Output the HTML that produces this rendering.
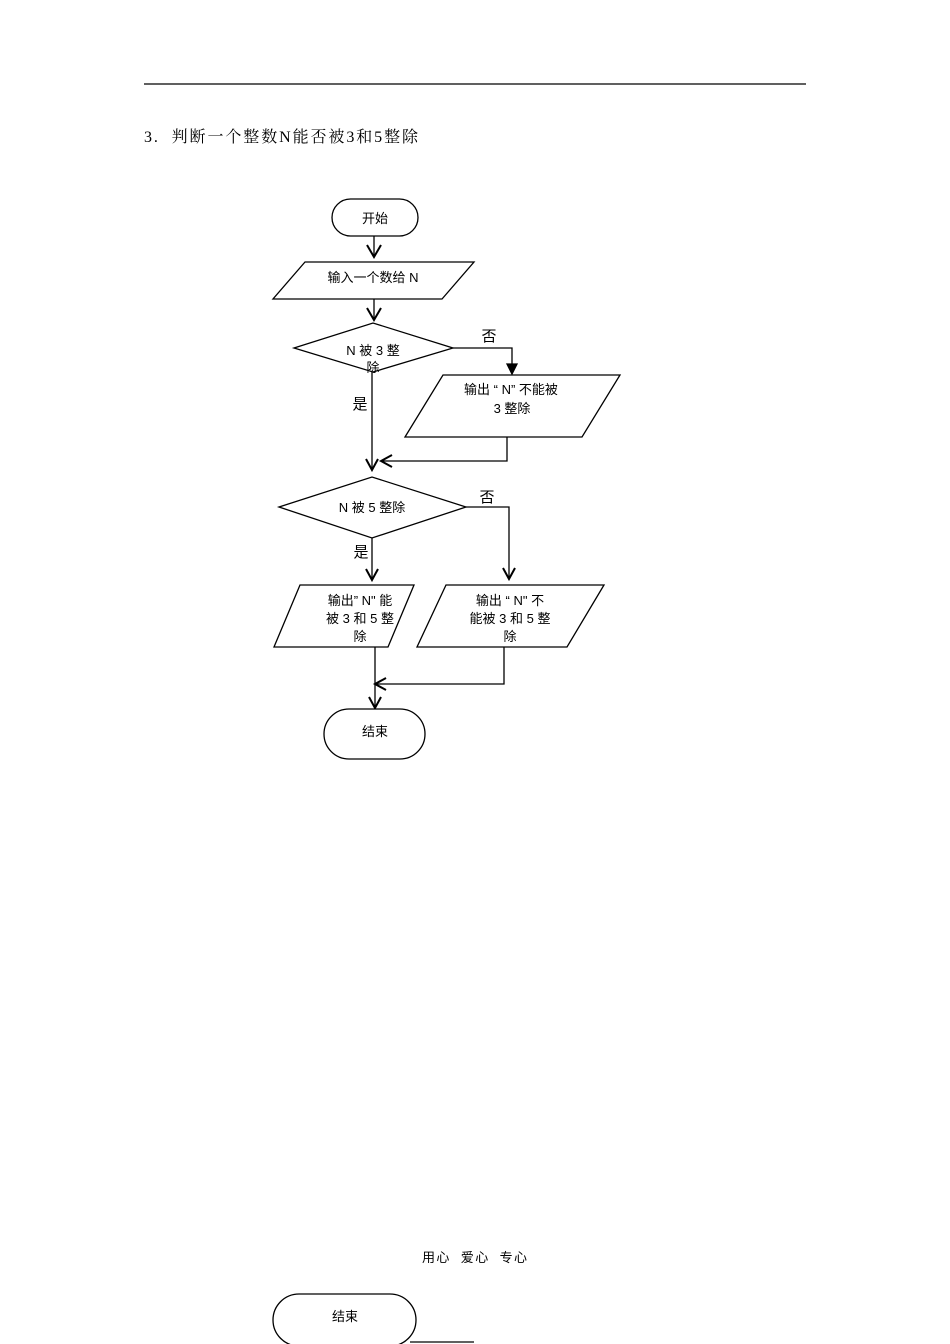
<!DOCTYPE html>
<html><head><meta charset="utf-8"><style>
html,body{margin:0;padding:0;background:#fff;}
svg{display:block;}
text{font-family:"Liberation Sans","Noto Sans CJK SC",sans-serif;font-size:13px;fill:#000;}
.t{font-family:"Liberation Serif","Noto Serif CJK SC",serif;font-size:16px;}
</style></head><body>
<svg width="950" height="1344" viewBox="0 0 950 1344" xmlns="http://www.w3.org/2000/svg">
<g stroke="#000" stroke-width="1.3" fill="none">
<line x1="144" y1="84" x2="806" y2="84"/>
<rect x="332" y="199" width="86" height="37" rx="18.5" fill="#fff"/>
<line x1="374" y1="236" x2="374" y2="257"/>
<polyline points="367,245 374,257 381,245" stroke-width="2"/>
<polygon points="305,262 474,262 442,299 273,299" fill="#fff"/>
<line x1="374" y1="299" x2="374" y2="320"/>
<polyline points="367,308 374,320 381,308" stroke-width="2"/>
<polygon points="294,348 373,323 453,348 373,372" fill="#fff"/>
<polyline points="453,348 512,348 512,366"/>
<polygon points="507,364 517,364 512,374" fill="#000"/>
<polygon points="443,375 620,375 582,437 405,437" fill="#fff"/>
<polyline points="507,437 507,461 382,461"/>
<polyline points="392,455 381,461 392,467" stroke-width="2"/>
<line x1="372" y1="372" x2="372" y2="469"/>
<polyline points="366,459 372,470 378,459" stroke-width="2"/>
<polygon points="279,507 372,477 466,507 372,538" fill="#fff"/>
<polyline points="466,507 509,507 509,578"/>
<polyline points="503,568 509,579 515,568" stroke-width="2"/>
<line x1="372" y1="538" x2="372" y2="579"/>
<polyline points="366,569 372,580 378,569" stroke-width="2"/>
<polygon points="300,585 414,585 388,647 274,647" fill="#fff"/>
<polygon points="446,585 604,585 567,647 417,647" fill="#fff"/>
<line x1="375" y1="647" x2="375" y2="707"/>
<polyline points="369,697 375,708 381,697" stroke-width="2"/>
<polyline points="504,647 504,684 376,684"/>
<polyline points="386,678 375,684 386,690" stroke-width="2"/>
<rect x="324" y="709" width="101" height="50" rx="25" fill="#fff"/>
<rect x="273" y="1294" width="143" height="52" rx="26" fill="#fff"/>
<line x1="410" y1="1342" x2="474" y2="1342"/>
</g>
<text class="t" x="144" y="142" textLength="274" lengthAdjust="spacing" xml:space="preserve">3.  判断一个整数N能否被3和5整除</text>
<text x="375" y="223" text-anchor="middle">开始</text>
<text x="373" y="282" text-anchor="middle">输入一个数给 N</text>
<text x="373" y="355" text-anchor="middle">N 被 3 整</text>
<text x="373" y="372" text-anchor="middle">除</text>
<text x="489" y="341" text-anchor="middle" style="font-size:15px">否</text>
<text x="511" y="394" text-anchor="middle">输出 “ N” 不能被</text>
<text x="512" y="413" text-anchor="middle">3 整除</text>
<text x="360" y="409" text-anchor="middle" style="font-size:15px">是</text>
<text x="372" y="512" text-anchor="middle">N 被 5 整除</text>
<text x="487" y="502" text-anchor="middle" style="font-size:15px">否</text>
<text x="361" y="557" text-anchor="middle" style="font-size:15px">是</text>
<text x="360" y="605" text-anchor="middle">输出” N" 能</text>
<text x="360" y="623" text-anchor="middle">被 3 和 5 整</text>
<text x="360" y="641" text-anchor="middle">除</text>
<text x="510" y="605" text-anchor="middle">输出 “ N" 不</text>
<text x="510" y="623" text-anchor="middle">能被 3  和 5  整</text>
<text x="510" y="641" text-anchor="middle">除</text>
<text x="375" y="736" text-anchor="middle">结束</text>
<text x="422" y="1262" textLength="105" lengthAdjust="spacing" xml:space="preserve">用心  爱心  专心</text>
<text x="345" y="1321" text-anchor="middle">结束</text>
</svg>
</body></html>
